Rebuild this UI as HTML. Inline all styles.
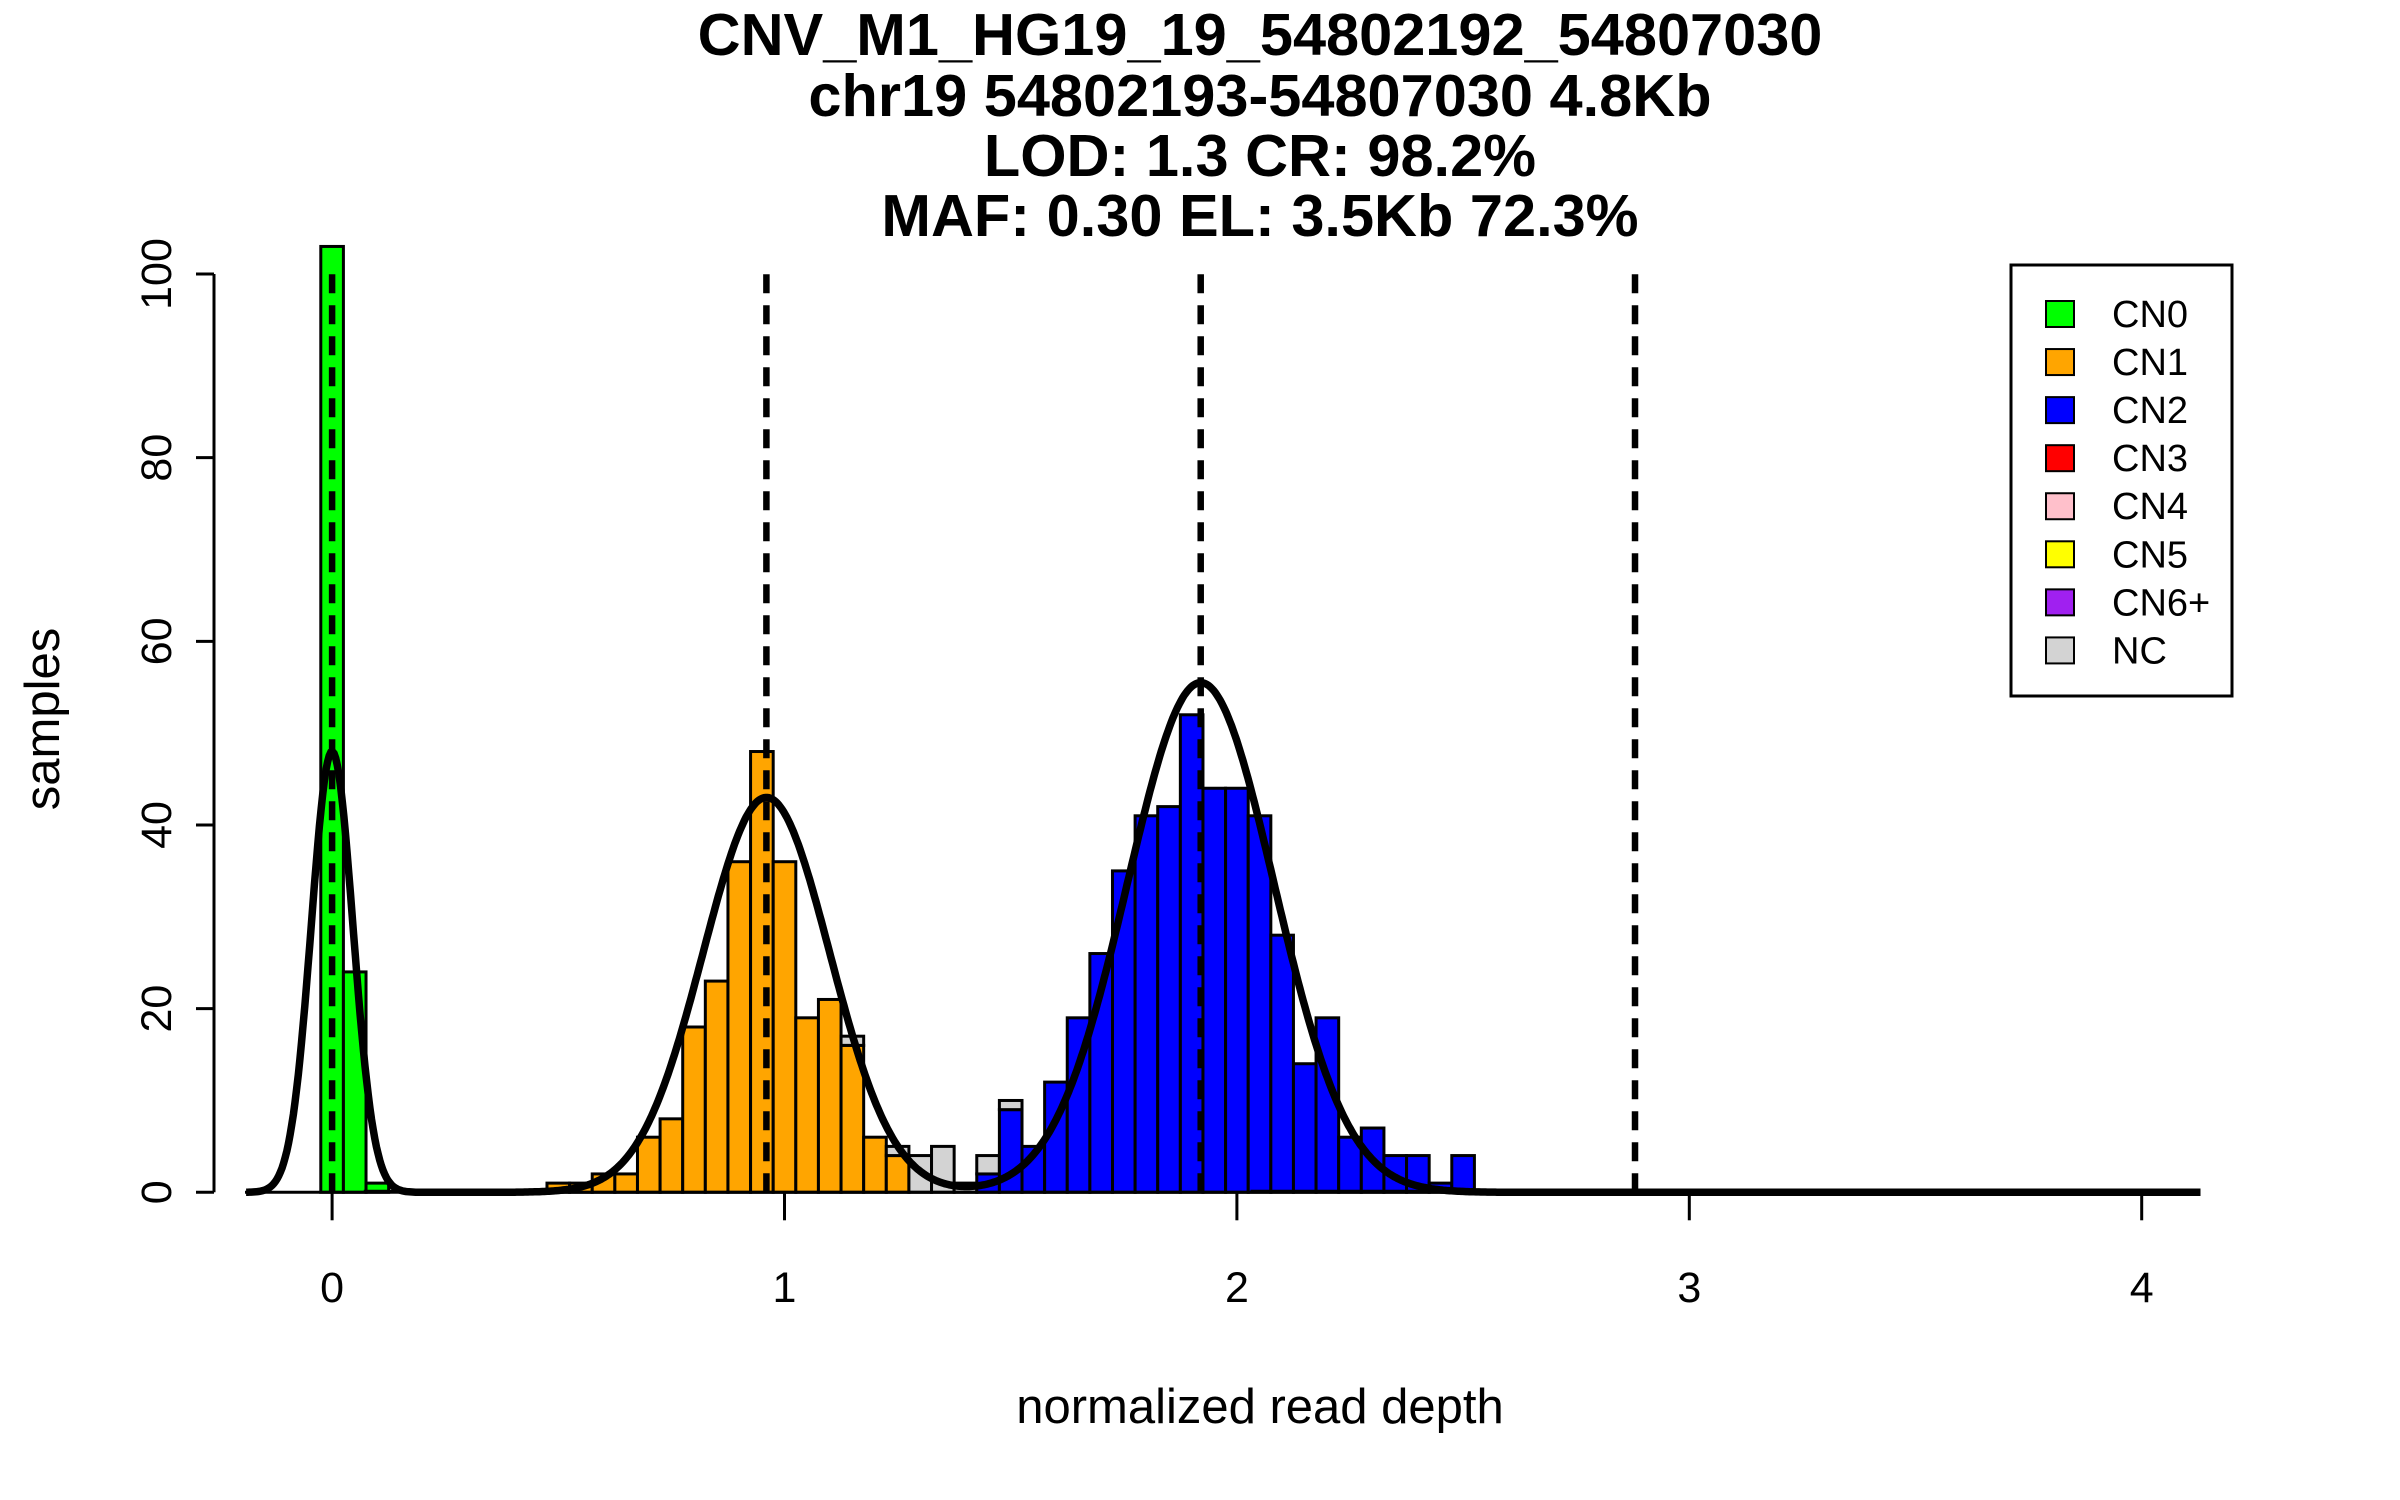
<!DOCTYPE html>
<html><head><meta charset="utf-8"><style>
html,body{margin:0;padding:0;background:#fff;}
svg{display:block;font-family:"Liberation Sans",sans-serif;}
</style></head><body>
<svg id="chart" width="2400" height="1500" viewBox="0 0 2400 1500" xmlns="http://www.w3.org/2000/svg">
<g font-weight="bold" font-size="59.5" text-anchor="middle">
<text x="1260" y="55">CNV_M1_HG19_19_54802192_54807030</text>
<text x="1260" y="116">chr19 54802193-54807030 4.8Kb</text>
<text x="1260" y="176">LOD: 1.3 CR: 98.2%</text>
<text x="1260" y="236">MAF: 0.30 EL: 3.5Kb 72.3%</text>
</g>
<text x="1260" y="1423" font-size="49" text-anchor="middle">normalized read depth</text>
<text x="0" y="0" font-size="49" text-anchor="middle" transform="translate(59,719) rotate(-90)">samples</text>
<g id="bars"></g>
<g id="axes"></g>
<g id="overlay"></g>
<g id="legend"></g>
</svg>
<script>
const binStart = 0, binWidth = 0.05;
const cn0 = [103,24,1,0,0,0,0,0,0,0,0,0,0,0,0,0,0,0,0,0,0,0,0,0,0,0,0,0,0,0,0,0,0,0,0,0,0,0,0,0,0,0,0,0,0,0,0,0,0,0,0];
const cn1 = [0,0,0,0,0,0,0,0,0,0,1,1,2,2,6,8,18,23,36,48,36,19,21,16,6,4,0,0,0,0,0,0,0,0,0,0,0,0,0,0,0,0,0,0,0,0,0,0,0,0,0];
const cn2 = [0,0,0,0,0,0,0,0,0,0,0,0,0,0,0,0,0,0,0,0,0,0,0,0,0,0,0,0,0,2,9,5,12,19,26,35,41,42,52,44,44,41,28,14,19,6,7,4,4,1,4];
const nc  = [0,0,0,0,0,0,0,0,0,0,0,0,0,0,0,0,0,0,0,0,0,0,0,1,0,1,4,5,1,2,1,0,0,0,0,0,0,0,0,0,0,0,0,0,0,0,0,0,0,0,0];
const means = [0, 0.96, 1.92];
const peaks = [48, 43, 55.5];
const sds = [0.046, 0.14, 0.162];
const cutoffs = [0, 0.96, 1.92, 2.88];
const xTicks = [0,1,2,3,4];
const yTicks = [0,20,40,60,80,100];
const legendLabels = ["CN0","CN1","CN2","CN3","CN4","CN5","CN6+","NC"];
const legendColors = ["#00ff00","#ffa500","#0000ff","#ff0000","#ffc0cb","#ffff00","#a020f0","#d3d3d3"];

const NS = "http://www.w3.org/2000/svg";
const X = v => 332.1 + v * 452.4;
const Y = v => 1192.3 - v * 9.183;
function mk(tag, attrs, parent){const e=document.createElementNS(NS,tag);for(const k in attrs)e.setAttribute(k,attrs[k]);parent.appendChild(e);return e;}

const bars = document.getElementById('bars');
const series = [[cn0,"#00ff00","cn0"],[cn1,"#ffa500","cn1"],[cn2,"#0000ff","cn2"],[nc,"#d3d3d3","nc"]];
for (let i=0;i<cn0.length;i++){
  let base=0;
  const c = binStart + i*binWidth;
  for (const [arr,col,nm] of series){
    const v=arr[i]; if(!v) continue;
    const r=mk('rect',{x:X(c-binWidth/2),y:Y(base+v),width:X(c+binWidth/2)-X(c-binWidth/2),height:Y(base)-Y(base+v),fill:col,stroke:'#000','stroke-width':3},bars);
    
    
    base+=v;
  }
}
const zl=mk('line',{x1:X(0.07),x2:X(0.22),y1:Y(0)-1,y2:Y(0)-1,stroke:'#000','stroke-width':3},bars);


const zr=mk('line',{x1:X(2.03),x2:X(3.7),y1:Y(0)-1,y2:Y(0)-1,stroke:'#000','stroke-width':3},bars);



const axes = document.getElementById('axes');
const xa=mk('line',{x1:245,x2:2199,y1:Y(0),y2:Y(0),stroke:'#000','stroke-width':3},axes);


for (const t of xTicks){
  const l=mk('line',{x1:X(t),x2:X(t),y1:Y(0),y2:Y(0)+28,stroke:'#000','stroke-width':3},axes);
  
  
  const tx=mk('text',{x:X(t),y:1302,'font-size':43,'text-anchor':'middle'},axes);
  tx.textContent=t;
  
  
}
const ya=mk('line',{x1:214,x2:214,y1:Y(0),y2:Y(100),stroke:'#000','stroke-width':3},axes);


for (const t of yTicks){
  const l=mk('line',{x1:214,x2:196,y1:Y(t),y2:Y(t),stroke:'#000','stroke-width':3},axes);
  
  
  const tx=mk('text',{x:0,y:0,'font-size':43,'text-anchor':'middle',transform:`translate(171,${Y(t)}) rotate(-90)`},axes);
  tx.textContent=t;
  
  
}

const ov = document.getElementById('overlay');
for (const c of cutoffs){
  const l=mk('line',{x1:X(c),x2:X(c),y1:Y(0),y2:Y(101),stroke:'#000','stroke-width':6.5,'stroke-dasharray':'19 12'},ov);
  
  
}
let d='';
for (let k=0;k<=1200;k++){
  const x=-0.19+k*(4.32/1200);
  let y=0;
  for (let j=0;j<means.length;j++){const z=(x-means[j])/sds[j];y+=peaks[j]*Math.exp(-0.5*z*z);}
  d+=(k?'L':'M')+X(x).toFixed(1)+' '+Y(y).toFixed(1);
}
const cur=mk('path',{d:d,fill:'none',stroke:'#000','stroke-width':7.5},ov);



const lg = document.getElementById('legend');
const box=mk('rect',{x:2011,y:265,width:221,height:431,fill:'#fff',stroke:'#000','stroke-width':3},lg);


legendLabels.forEach((lab,i)=>{
  const cy=314+i*48.06;
  const g=mk('g',{},lg);
  
  
  mk('rect',{x:2046,y:cy-13,width:28,height:26,fill:legendColors[i],stroke:'#000','stroke-width':2},g);
  const t=mk('text',{x:2112,y:cy+13,'font-size':38},g);
  t.textContent=lab;
});
</script>
</body></html>
